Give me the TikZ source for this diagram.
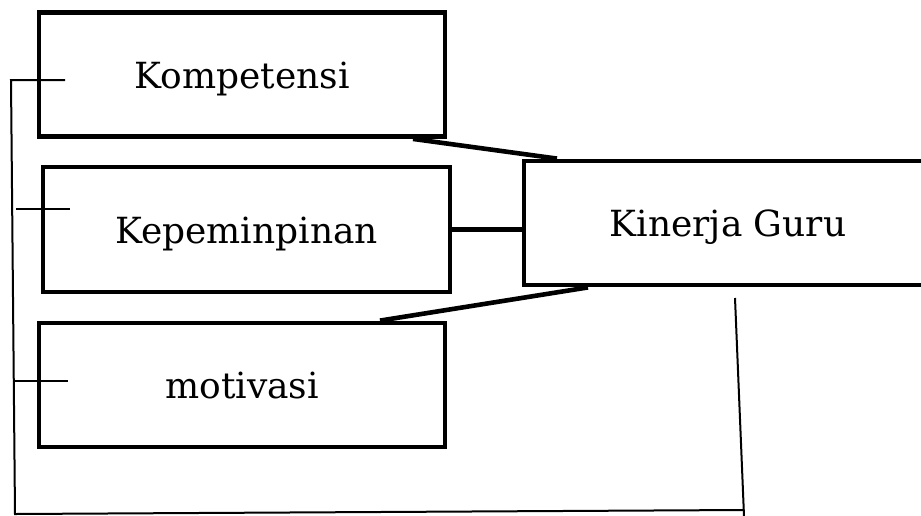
\documentclass[tikz,border=0pt]{standalone}
\usepackage{fontspec}
\setmainfont{DejaVu Serif}
\begin{document}
\begin{tikzpicture}[x=1pt,y=-1pt,
  varbox/.style={draw=black, line width=4.8pt, rectangle, minimum width=406pt,
    minimum height=124pt, inner sep=0pt, text height=27pt, text depth=0pt,
    font=\fontsize{36}{41}\selectfont},
  link/.style={line width=4.6pt},
  thin/.style={line width=2pt}]
\useasboundingbox (0,0) rectangle (921,515);
\clip (0,0) rectangle (921,515);

% independent variables
\node[varbox] (komp) at (242,74.5) {Kompetensi};
\node[varbox, minimum width=407pt, minimum height=125pt] (kep) at (246.5,229.5) {Kepeminpinan};
\node[varbox] (mot) at (242,385) {motivasi};

% dependent variable
\node[varbox, minimum width=408pt] (kin) at (728,223) {Kinerja Guru};

% links to the dependent variable
\draw[link] ([xshift=171pt]komp.south) -- ([xshift=-171pt]kin.north);
\draw[link] (kep.east) -- (kep.east -| kin.west);
\draw[link] ([xshift=138pt]mot.north) -- ([xshift=-140pt]kin.south);

% bracket tying all variables together
\coordinate (lt) at (11,80);
\coordinate (lb) at (15,514);
\coordinate (rb) at (743,510);
\coordinate (rt) at (735,298);
\coordinate (re) at (744,516);
\coordinate (t1) at (65,80);
\coordinate (t2a) at (16,209);
\coordinate (t2) at (70,209);
\coordinate (t3a) at (13,381);
\coordinate (t3) at (68,381);
\draw[thin] (t1) -- (lt) -- (lb) -- (rb);
\draw[thin] (rt) -- (re);
\draw[thin] (t2a) -- (t2);
\draw[thin] (t3a) -- (t3);
\end{tikzpicture}
\end{document}
